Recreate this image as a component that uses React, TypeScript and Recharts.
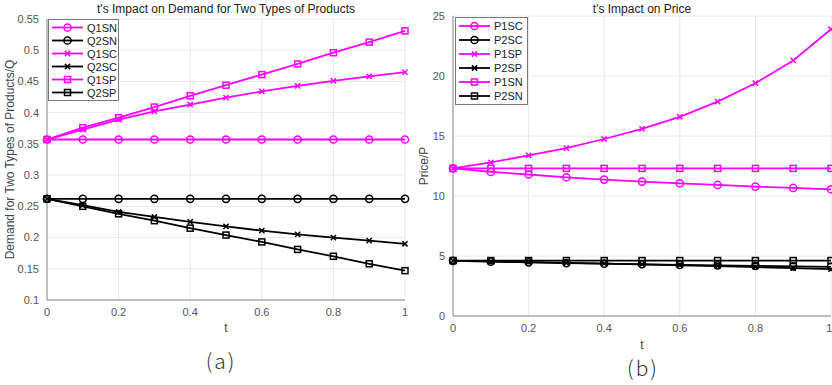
import React from 'react';
import { LineChart, Line, XAxis, YAxis, CartesianGrid, Legend } from 'recharts';

const T = [0, 0.1, 0.2, 0.3, 0.4, 0.5, 0.6, 0.7, 0.8, 0.9, 1];
const X_TICKS = [0, 0.2, 0.4, 0.6, 0.8, 1];

// (a) demand
const Q1SN = [0.357, 0.357, 0.357, 0.357, 0.357, 0.357, 0.357, 0.357, 0.357, 0.357, 0.357];
const Q2SN = [0.262, 0.262, 0.262, 0.262, 0.262, 0.262, 0.262, 0.262, 0.262, 0.262, 0.262];
const Q1SC = [0.357, 0.373, 0.389, 0.402, 0.413, 0.424, 0.434, 0.443, 0.451, 0.458, 0.465];
const Q2SC = [0.262, 0.252, 0.241, 0.233, 0.225, 0.218, 0.211, 0.205, 0.2, 0.195, 0.19];
const Q1SP = [0.357, 0.376, 0.392, 0.409, 0.427, 0.444, 0.461, 0.478, 0.496, 0.513, 0.531];
const Q2SP = [0.262, 0.25, 0.238, 0.227, 0.215, 0.204, 0.193, 0.181, 0.17, 0.158, 0.147];
const Q_TICKS = [0.1, 0.15, 0.2, 0.25, 0.3, 0.35, 0.4, 0.45, 0.5, 0.55];

// (b) price
const P1SC = [12.3, 12.01, 11.79, 11.56, 11.37, 11.2, 11.06, 10.92, 10.78, 10.67, 10.56];
const P2SC = [4.6, 4.53, 4.47, 4.41, 4.36, 4.31, 4.26, 4.22, 4.18, 4.14, 4.1];
const P1SP = [12.3, 12.8, 13.38, 13.99, 14.75, 15.59, 16.6, 17.87, 19.4, 21.3, 23.9];
const P2SP = [4.6, 4.55, 4.49, 4.43, 4.37, 4.3, 4.23, 4.16, 4.08, 3.99, 3.9];
const P1SN = [12.3, 12.3, 12.3, 12.3, 12.3, 12.3, 12.3, 12.3, 12.3, 12.3, 12.3];
const P2SN = [4.62, 4.62, 4.62, 4.62, 4.62, 4.62, 4.62, 4.62, 4.62, 4.62, 4.62];
const P_TICKS = [0, 5, 10, 15, 20, 25];

const MAG = '#ff00ff';
const BLK = '#000000';
const FONT = '"Liberation Sans", Arial, Helvetica, sans-serif';

type Marker = 'o' | 'x' | 's';
type Series = { key: string; values: number[]; color: string; marker: Marker };

const seriesA: Series[] = [
  { key: 'Q1SN', values: Q1SN, color: MAG, marker: 'o' },
  { key: 'Q2SN', values: Q2SN, color: BLK, marker: 'o' },
  { key: 'Q1SC', values: Q1SC, color: MAG, marker: 'x' },
  { key: 'Q2SC', values: Q2SC, color: BLK, marker: 'x' },
  { key: 'Q1SP', values: Q1SP, color: MAG, marker: 's' },
  { key: 'Q2SP', values: Q2SP, color: BLK, marker: 's' },
];

const seriesB: Series[] = [
  { key: 'P1SC', values: P1SC, color: MAG, marker: 'o' },
  { key: 'P2SC', values: P2SC, color: BLK, marker: 'o' },
  { key: 'P1SP', values: P1SP, color: MAG, marker: 'x' },
  { key: 'P2SP', values: P2SP, color: BLK, marker: 'x' },
  { key: 'P1SN', values: P1SN, color: MAG, marker: 's' },
  { key: 'P2SN', values: P2SN, color: BLK, marker: 's' },
];

const buildRows = (series: Series[]) =>
  T.map((t, i) => {
    const row: Record<string, number> = { t };
    series.forEach((s) => (row[s.key] = s.values[i]));
    return row;
  });

const dataA = buildRows(seriesA);
const dataB = buildRows(seriesB);

function markerShape(marker: Marker, color: string, cx: number, cy: number, key?: any) {
  if (marker === 'o')
    return <circle key={key} cx={cx} cy={cy} r={3.6} fill="none" stroke={color} strokeWidth={1.5} />;
  if (marker === 's')
    return <rect key={key} x={cx - 3} y={cy - 3} width={6} height={6} fill="none" stroke={color} strokeWidth={1.5} />;
  return (
    <g key={key}>
      <line x1={cx - 2.6} y1={cy - 2.6} x2={cx + 2.6} y2={cy + 2.6} stroke={color} strokeWidth={1.5} />
      <line x1={cx - 2.6} y1={cy + 2.6} x2={cx + 2.6} y2={cy - 2.6} stroke={color} strokeWidth={1.5} />
    </g>
  );
}

const makeDot = (s: Series) => (props: any) =>
  markerShape(s.marker, s.color, props.cx, props.cy, `${s.key}-${props.index}`);

function LegendBox({ series, rowH, width }: { series: Series[]; rowH: number; width: number }) {
  const h = series.length * rowH + 4;
  return (
    <svg width={width} height={h} style={{ display: 'block' }}>
      <rect x={0.5} y={0.5} width={width - 1} height={h - 1} fill="#fff" stroke="#7a7a7a" strokeWidth={1} />
      {series.map((s, i) => {
        const y = 2 + rowH * i + rowH / 2;
        return (
          <g key={s.key}>
            <line x1={4} y1={y} x2={35} y2={y} stroke={s.color} strokeWidth={1.8} />
            {markerShape(s.marker, s.color, 19.5, y)}
            <text x={39} y={y + 4} fontSize={11} fontFamily={FONT} fill="#222">
              {s.key}
            </text>
          </g>
        );
      })}
    </svg>
  );
}

const tickStyle = { fontSize: 11, fill: '#555', fontFamily: FONT };
const AXIS = '#8c8c8c';

function Panel(props: {
  series: Series[];
  data: any[];
  width: number;
  margin: any;
  yWidth: number;
  yTicks: number[];
  yDomain: [number, number];
  yLabel: string;
  yLabelX: number;
  rowH: number;
  legendW: number;
  legendPos: { left: number; top: number };
  tLabelDy: number;
}) {
  const { series, data, width, margin, yWidth, yTicks, yDomain, yLabel, yLabelX, rowH, legendW, legendPos, tLabelDy } = props;
  return (
    <LineChart width={width} height={385} data={data} margin={margin}>
      <CartesianGrid stroke="#e8e8e8" strokeWidth={1} />
      <XAxis
        dataKey="t"
        type="number"
        domain={[0, 1]}
        ticks={X_TICKS}
        tickFormatter={(v: number) => String(v)}
        tick={tickStyle}
        tickLine={false}
        stroke={AXIS}
        height={30}
        label={{
          content: (p: any) => {
            const vb = p.viewBox;
            return (
              <text x={vb.x + vb.width / 2} y={vb.y + tLabelDy} textAnchor="middle" fontSize={12} fontFamily={FONT} fill="#444">
                t
              </text>
            );
          },
        }}
      />
      <XAxis xAxisId="top" orientation="top" dataKey="t" type="number" domain={[0, 1]} tick={false} tickLine={false} stroke={AXIS} height={0} />
      <YAxis
        type="number"
        domain={yDomain}
        ticks={yTicks}
        tickFormatter={(v: number) => String(v)}
        tick={tickStyle}
        tickLine={false}
        stroke={AXIS}
        width={yWidth}
        allowDataOverflow
        label={{
          content: (p: any) => {
            const vb = p.viewBox;
            const cy = vb.y + vb.height / 2;
            return (
              <text x={yLabelX} y={cy} transform={`rotate(-90 ${yLabelX} ${cy})`} textAnchor="middle" fontSize={12} fontFamily={FONT} fill="#444">
                {yLabel}
              </text>
            );
          },
        }}
      />
      <YAxis yAxisId="right" orientation="right" type="number" domain={yDomain} tick={false} tickLine={false} stroke={AXIS} width={0} />
      {series.map((s) => (
        <Line
          key={s.key}
          dataKey={s.key}
          stroke={s.color}
          strokeWidth={1.8}
          dot={makeDot(s)}
          activeDot={false}
          isAnimationActive={false}
        />
      ))}
      <Legend
        layout="vertical"
        align="center"
        verticalAlign="middle"
        wrapperStyle={{ left: legendPos.left, top: legendPos.top, width: legendW }}
        content={() => <LegendBox series={series} rowH={rowH} width={legendW} />}
      />
    </LineChart>
  );
}

export default function App() {
  return (
    <div style={{ position: 'absolute', left: 0, top: 0, width: 832, height: 385, background: '#fff', overflow: 'hidden' }}>
      <div style={{ position: 'absolute', left: 0, top: 0 }}>
        <Panel
          series={seriesA}
          data={dataA}
          width={410}
          margin={{ top: 19, right: 5, bottom: 55, left: 7 }}
          yWidth={40}
          yTicks={Q_TICKS}
          yDomain={[0.1, 0.55]}
          yLabel="Demand for Two Types of Products/Q"
          yLabelX={14}
          rowH={13}
          legendW={71}
          legendPos={{ left: 48, top: 19 }}
          tLabelDy={32}
        />
      </div>
      <div style={{ position: 'absolute', left: 410, top: 0 }}>
        <Panel
          series={seriesB}
          data={dataB}
          width={422}
          margin={{ top: 16, right: 1, bottom: 39, left: 7 }}
          yWidth={36}
          yTicks={P_TICKS}
          yDomain={[0, 25]}
          yLabel="Price/P"
          yLabelX={18}
          rowH={14}
          legendW={73}
          legendPos={{ left: 45, top: 17 }}
          tLabelDy={33}
        />
      </div>
      <div style={{ position: 'absolute', left: 47, width: 358, top: 2, textAlign: 'center', fontFamily: FONT, fontSize: 12, color: '#222' }}>
        t's Impact on Demand for Two Types of Products
      </div>
      <div style={{ position: 'absolute', left: 453, width: 378, top: 2, textAlign: 'center', fontFamily: FONT, fontSize: 12, color: '#222' }}>
        t's Impact on Price
      </div>
      <div style={{ position: 'absolute', left: 180, width: 82, top: 346, textAlign: 'center', fontFamily: '"Noto Sans CJK SC", "Noto Sans", sans-serif', fontWeight: 300, fontSize: 21, letterSpacing: 2, color: '#333', lineHeight: '28px' }}>
        (a)
      </div>
      <div style={{ position: 'absolute', left: 602, width: 82, top: 353, textAlign: 'center', fontFamily: '"Noto Sans CJK SC", "Noto Sans", sans-serif', fontWeight: 300, fontSize: 21, letterSpacing: 2, color: '#333', lineHeight: '28px' }}>
        (b)
      </div>
    </div>
  );
}
